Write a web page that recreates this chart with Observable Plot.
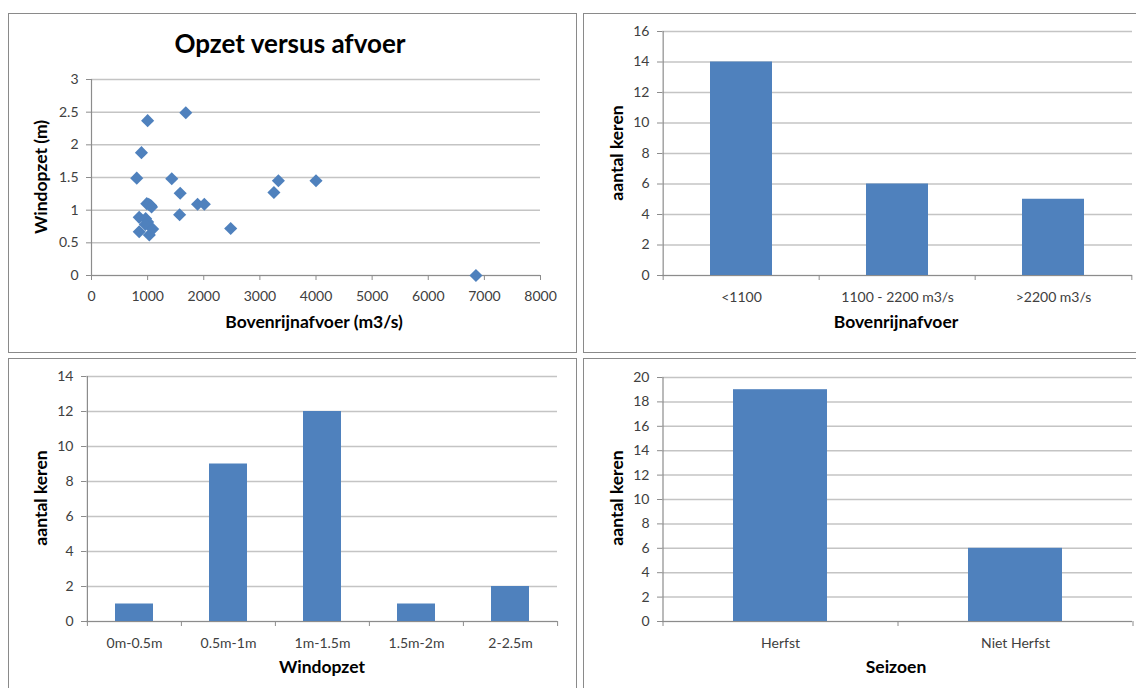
<!DOCTYPE html>
<html><head><meta charset="utf-8">
<script src="https://cdn.jsdelivr.net/npm/d3@7"></script>
<script src="https://cdn.jsdelivr.net/npm/@observablehq/plot@0.6"></script>
<style>
body{margin:0;background:#fff;font-family:Lato,"Open Sans",sans-serif;}
#root{position:relative;width:1136px;height:688px;overflow:hidden;background:#fff}
.panel{position:absolute;border:1.5px solid #8a8a8a;box-sizing:border-box}
.plot{position:absolute}
.t{position:absolute;font-weight:bold;color:#000;white-space:nowrap;transform:translate(-50%,-50%);font-size:17.5px;line-height:1}
.ty{transform:translate(-50%,-50%) rotate(-90deg)}
</style></head><body><div id="root"></div>
<script>
// ---- data ----
const scatterDischarge = [806, 890, 1000, 1680, 1430, 1580, 1890, 2010, 1570, 2480, 3250, 3330, 4000, 6850,
  985, 1055, 1020, 1070, 850, 965, 1000, 960, 850, 1030, 1090];
const scatterSurge = [1.49, 1.88, 2.37, 2.49, 1.48, 1.26, 1.09, 1.09, 0.93, 0.72, 1.27, 1.45, 1.45, 0,
  1.10, 1.07, 1.09, 1.05, 0.89, 0.87, 0.82, 0.78, 0.67, 0.62, 0.71];
const scatterXTicks = [0, 1000, 2000, 3000, 4000, 5000, 6000, 7000, 8000];
const scatterYTicks = [0, 0.5, 1, 1.5, 2, 2.5, 3];

const dischargeClasses = ["<1100", "1100 - 2200 m3/s", ">2200 m3/s"];
const dischargeCounts = [14, 6, 5];
const dischargeTicks = [0, 2, 4, 6, 8, 10, 12, 14, 16];

const surgeClasses = ["0m-0.5m", "0.5m-1m", "1m-1.5m", "1.5m-2m", "2-2.5m"];
const surgeCounts = [1, 9, 12, 1, 2];
const surgeTicks = [0, 2, 4, 6, 8, 10, 12, 14];

const seasonClasses = ["Herfst", "Niet Herfst"];
const seasonCounts = [19, 6];
const seasonTicks = [0, 2, 4, 6, 8, 10, 12, 14, 16, 18, 20];

// ---- style ----
const BLUE = "#4F81BD", GRID = "#c4c4c4", AXIS = "#8c8c8c", LABEL = "#404040";
const FONT = "Lato, 'Open Sans', sans-serif";
const root = document.getElementById("root");

function addDiv(cls, css, text) {
  const d = document.createElement("div");
  d.className = cls;
  Object.assign(d.style, css);
  if (text != null) d.textContent = text;
  root.appendChild(d);
  return d;
}
function place(svg, left, top) {
  svg.classList.add("plot");
  svg.style.left = left + "px";
  svg.style.top = top + "px";
  root.appendChild(svg);
}

// panel borders
addDiv("panel", {left: "8px", top: "13px", width: "569px", height: "340px"});
addDiv("panel", {left: "583px", top: "13px", width: "570px", height: "340px"});
addDiv("panel", {left: "8px", top: "358px", width: "569px", height: "340px"});
addDiv("panel", {left: "583px", top: "358px", width: "570px", height: "340px"});

const baseStyle = {fontSize: "14px", fontFamily: FONT, background: "transparent", overflow: "visible"};

// ---- panel 1: scatter ----
const scatter = scatterDischarge.map((x, i) => ({x, y: scatterSurge[i]}));
const p1 = Plot.plot({
  width: 569, height: 339,
  marginLeft: 83, marginRight: 37, marginTop: 66, marginBottom: 77,
  style: baseStyle,
  x: {domain: [0, 8000], label: null},
  y: {domain: [0, 3], label: null},
  marks: [
    Plot.gridY(scatterYTicks, {stroke: GRID, strokeOpacity: 1, strokeWidth: 1.5}),
    Plot.ruleX([0], {stroke: AXIS, strokeWidth: 1.2}),
    Plot.ruleY([0], {stroke: AXIS, strokeWidth: 1.2}),
    Plot.axisY(scatterYTicks, {tickSize: 5, tickPadding: 8, stroke: AXIS, fill: LABEL, label: null, tickFormat: d => String(d)}),
    Plot.axisX(scatterXTicks, {tickSize: 5, tickPadding: 11, stroke: AXIS, fill: LABEL, label: null, tickFormat: d => String(d)}),
    Plot.dot(scatter, {x: "x", y: "y", symbol: "diamond2", r: 5.9, fill: BLUE, stroke: null})
  ]
});
place(p1, 8, 13);
addDiv("t", {left: "290px", top: "43px", fontSize: "26px"}, "Opzet versus afvoer");
addDiv("t", {left: "314px", top: "322px"}, "Bovenrijnafvoer (m3/s)");
addDiv("t ty", {left: "41px", top: "177px"}, "Windopzet (m)");

// ---- bar chart helper ----
function barChart({cats, counts, ticks, width, height, ml, mr, mt, mb, left, top}) {
  const data = cats.map((c, i) => ({c, n: counts[i]}));
  const step = (width - ml - mr) / cats.length;
  const ymax = ticks[ticks.length - 1];
  const svg = Plot.plot({
    width, height, marginLeft: ml, marginRight: mr, marginTop: mt, marginBottom: mb,
    style: baseStyle,
    x: {domain: cats, paddingInner: 0.6, paddingOuter: 0.3, label: null},
    y: {domain: [0, ymax], label: null},
    marks: [
      Plot.gridY(ticks, {stroke: GRID, strokeOpacity: 1, strokeWidth: 1.5}),
      Plot.barY(data, {x: "c", y: "n", fill: BLUE}),
      Plot.ruleY([0], {stroke: AXIS, strokeWidth: 1.2}),
      Plot.ruleX([cats[0]], {dx: -step / 2, y1: 0, y2: ymax, stroke: AXIS, strokeWidth: 1.2}),
      Plot.ruleX(cats, {dx: -step / 2, y1: 0, y2: 0, insetBottom: -5, stroke: AXIS}),
      Plot.ruleX([cats[cats.length - 1]], {dx: step / 2, y1: 0, y2: 0, insetBottom: -5, stroke: AXIS}),
      Plot.axisY(ticks, {tickSize: 5, tickPadding: 8, stroke: AXIS, fill: LABEL, label: null}),
      Plot.axisX({tickSize: 0, tickPadding: 17, fill: LABEL, label: null})
    ]
  });
  place(svg, left, top);
}

// ---- panel 2 ----
barChart({cats: dischargeClasses, counts: dischargeCounts, ticks: dischargeTicks,
  width: 552, height: 339, ml: 78, mr: 4, mt: 18, mb: 77, left: 584, top: 13});
addDiv("t", {left: "896px", top: "322px"}, "Bovenrijnafvoer");
addDiv("t ty", {left: "617px", top: "153px"}, "aantal keren");

// ---- panel 3 ----
barChart({cats: surgeClasses, counts: surgeCounts, ticks: surgeTicks,
  width: 569, height: 330, ml: 78, mr: 20, mt: 18, mb: 67, left: 8, top: 358});
addDiv("t", {left: "322px", top: "667px"}, "Windopzet");
addDiv("t ty", {left: "41px", top: "498px"}, "aantal keren");

// ---- panel 4 ----
barChart({cats: seasonClasses, counts: seasonCounts, ticks: seasonTicks,
  width: 552, height: 330, ml: 78, mr: 4, mt: 19, mb: 67, left: 584, top: 358});
addDiv("t", {left: "896px", top: "667px"}, "Seizoen");
addDiv("t ty", {left: "617px", top: "498px"}, "aantal keren");
</script>
</body></html>
